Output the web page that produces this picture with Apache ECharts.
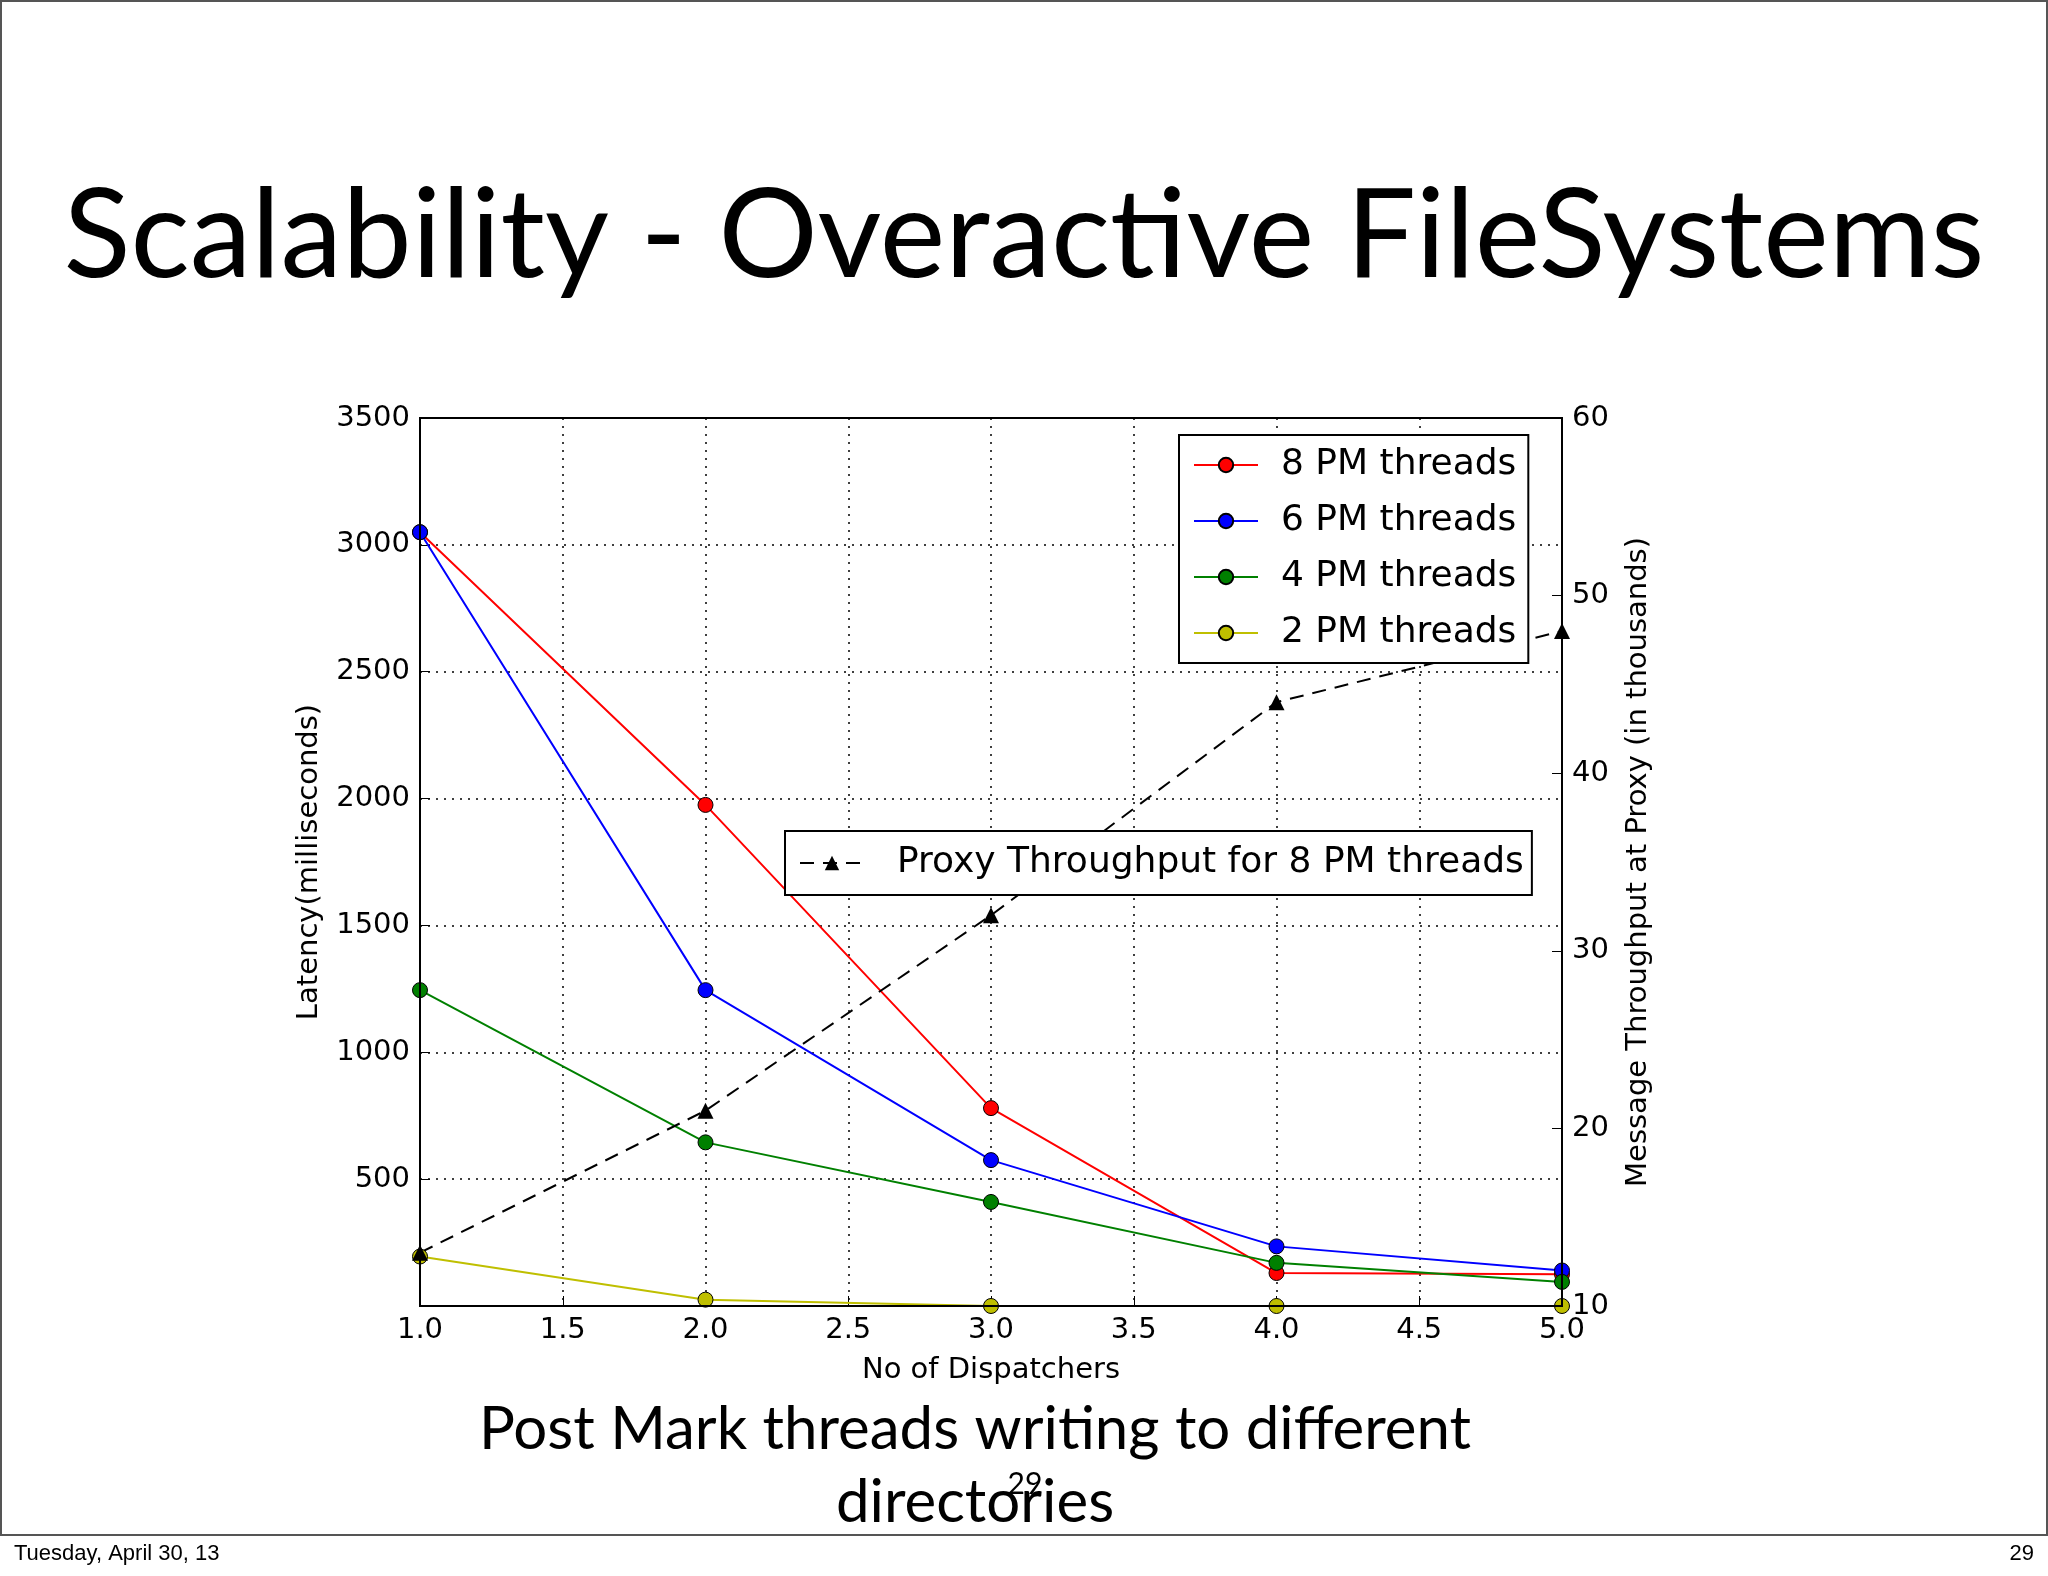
<!DOCTYPE html>
<html>
<head>
<meta charset="utf-8">
<script src="https://cdn.jsdelivr.net/npm/echarts@6/dist/echarts.min.js"></script>
<style>
  body { margin: 0; background: #fff; }
  #chart { width: 2048px; height: 1576px; }
</style>
</head>
<body>
<div id="chart"></div>
<script>
// data
var dispatchers = [1, 2, 3, 4, 5];
var pm8 = [3050, 1975, 780, 130, 125];
var pm6 = [3050, 1245, 575, 235, 140];
var pm4 = [1245, 645, 410, 170, 95];
var pm2 = [195, 25, 0, 0, 0];
var throughput = [13, 21, 32, 44, 48];

function pairs(ys) {
  return dispatchers.map(function (x, i) { return [x, ys[i]]; });
}

var font = 'DejaVu Sans';
var dotted = { show: true, lineStyle: { color: '#000', type: [2, 6], width: 1.5 } };

function lineSeries(name, ys, color) {
  return {
    name: name, type: 'line', data: pairs(ys), yAxisIndex: 0,
    symbol: 'circle', symbolSize: 15,
    lineStyle: { color: color, width: 2 },
    itemStyle: { color: color, borderColor: '#000', borderWidth: 1 }
  };
}

var chart = echarts.init(document.getElementById('chart'));
chart.setOption({
  animation: false,
  grid: { left: 420, top: 418, width: 1142, height: 888 },
  legend: [
    {
      data: ['8 PM threads', '6 PM threads', '4 PM threads', '2 PM threads'],
      orient: 'vertical', left: 1179, top: 435,
      itemWidth: 64, itemHeight: 18, itemGap: 20,
      padding: [12, 12, 12, 14],
      borderColor: '#000', borderWidth: 2, backgroundColor: '#fff',
      textStyle: { fontFamily: font, fontSize: 36, color: '#000', padding: [0, 0, 0, 18] }
    },
    {
      data: ['Proxy Throughput for 8 PM threads'],
      left: 785, top: 831,
      itemWidth: 64, itemHeight: 18,
      padding: [14, 8, 14, 14],
      borderColor: '#000', borderWidth: 2, backgroundColor: '#fff',
      textStyle: { fontFamily: font, fontSize: 36, color: '#000', padding: [0, 0, 0, 28] }
    }
  ],
  xAxis: {
    type: 'value', min: 1, max: 5, interval: 0.5,
    name: 'No of Dispatchers', nameLocation: 'middle', nameGap: 50,
    nameTextStyle: { fontFamily: font, fontSize: 29, color: '#000' },
    axisLine: { lineStyle: { color: '#000', width: 2 } },
    axisTick: { inside: true, length: 10, lineStyle: { color: '#000' } },
    axisLabel: { fontFamily: font, fontSize: 29, color: '#000', margin: 10,
      formatter: function (v) { return v.toFixed(1); } },
    splitLine: dotted
  },
  yAxis: [
    {
      type: 'value', min: 0, max: 3500, interval: 500,
      name: 'Latency(milliseconds)', nameLocation: 'middle', nameGap: 96,
      nameTextStyle: { fontFamily: font, fontSize: 29, color: '#000' },
      axisLine: { show: true, lineStyle: { color: '#000', width: 2 } },
      axisTick: { show: true, inside: true, length: 10, lineStyle: { color: '#000' } },
      axisLabel: { fontFamily: font, fontSize: 29, color: '#000', margin: 10,
        formatter: function (v) { return v === 0 ? '' : v; } },
      splitLine: dotted
    },
    {
      type: 'value', min: 10, max: 60, interval: 10, position: 'right',
      name: 'Message Throughput at Proxy (in thousands)', nameLocation: 'middle', nameGap: 62,
      nameTextStyle: { fontFamily: font, fontSize: 29, color: '#000' },
      axisLine: { show: true, lineStyle: { color: '#000', width: 2 } },
      axisTick: { show: true, inside: true, length: 10, lineStyle: { color: '#000' } },
      axisLabel: { fontFamily: font, fontSize: 29, color: '#000', margin: 10 },
      splitLine: { show: false }
    }
  ],
  series: [
    lineSeries('8 PM threads', pm8, '#ff0000'),
    lineSeries('6 PM threads', pm6, '#0000ff'),
    lineSeries('4 PM threads', pm4, '#008000'),
    lineSeries('2 PM threads', pm2, '#bfbf00'),
    {
      name: 'Proxy Throughput for 8 PM threads', type: 'line', yAxisIndex: 1,
      data: pairs(throughput), symbol: 'triangle', symbolSize: 16,
      lineStyle: { color: '#000', width: 2, type: [14, 9] },
      itemStyle: { color: '#000' }
    }
  ],
  graphic: [
    { type: 'rect', shape: { x: 1, y: 1, width: 2046, height: 1534 },
      style: { fill: 'none', stroke: '#555', lineWidth: 2 } },
    { type: 'rect', z: 100, silent: true, shape: { x: 420, y: 418, width: 1142, height: 888 },
      style: { fill: 'none', stroke: '#000', lineWidth: 2 } },
    { type: 'text', left: 'center', top: 175,
      style: { text: 'Scalability - Overactive FileSystems', font: '124px Lato, "Open Sans"', fill: '#000' } },
    { type: 'text', x: 975, y: 1430,
      style: { text: 'Post Mark threads writing to different', font: '60px Lato', fill: '#000', align: 'center', verticalAlign: 'middle' } },
    { type: 'text', x: 975, y: 1503,
      style: { text: 'directories', font: '60px Lato', fill: '#000', align: 'center', verticalAlign: 'middle' } },
    { type: 'text', x: 1025, y: 1484,
      style: { text: '29', font: '30px Lato', fill: '#000', align: 'center', verticalAlign: 'middle' } },
    { type: 'text', x: 14, y: 1554,
      style: { text: 'Tuesday, April 30, 13', font: '22px "Liberation Sans"', fill: '#000', verticalAlign: 'middle' } },
    { type: 'text', x: 2034, y: 1554,
      style: { text: '29', font: '22px "Liberation Sans"', fill: '#000', align: 'right', verticalAlign: 'middle' } }
  ]
});
</script>
</body>
</html>
